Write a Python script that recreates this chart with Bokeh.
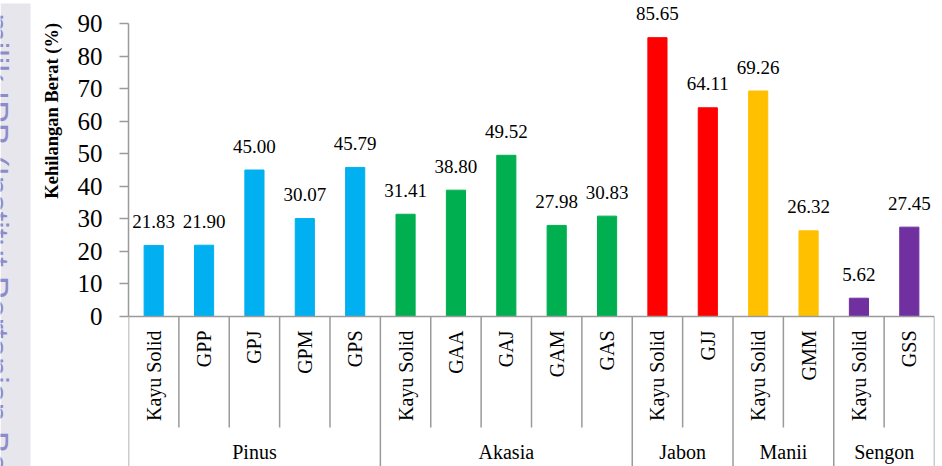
import math
from bokeh.plotting import figure
from bokeh.layouts import row
from bokeh.models import FactorRange, Range1d, FixedTicker, ColumnDataSource
from bokeh.core.properties import value
from bokeh.embed import file_html
from bokeh.resources import INLINE

# ---------------- data ----------------
groups = ["Pinus", "Akasia", "Jabon", "Manii", "Sengon"]
pinus_cats = ["Kayu Solid", "GPP", "GPJ", "GPM", "GPS"]
pinus_vals = [21.83, 21.90, 45.00, 30.07, 45.79]
akasia_cats = ["Kayu Solid", "GAA", "GAJ", "GAM", "GAS"]
akasia_vals = [31.41, 38.80, 49.52, 27.98, 30.83]
jabon_cats = ["Kayu Solid", "GJJ"]
jabon_vals = [85.65, 64.11]
manii_cats = ["Kayu Solid", "GMM"]
manii_vals = [69.26, 26.32]
sengon_cats = ["Kayu Solid", "GSS"]
sengon_vals = [5.62, 27.45]
group_colors = ["#00B0F0", "#00B050", "#FF0000", "#FFC000", "#7030A0"]
y_ticks = [0, 10, 20, 30, 40, 50, 60, 70, 80, 90]
y_title = "Kehilangan Berat (%)"
watermark = "milik IPB (Institut Pertanian Bogor)"

group_cats = [pinus_cats, akasia_cats, jabon_cats, manii_cats, sengon_cats]
group_vals = [pinus_vals, akasia_vals, jabon_vals, manii_vals, sengon_vals]

factors, vals, cols, subs = [], [], [], []
for g, cats, vs, c in zip(groups, group_cats, group_vals, group_colors):
    for s, v in zip(cats, vs):
        factors.append((g, s))
        vals.append(v)
        cols.append(c)
        subs.append(s)

# ---------------- layout ----------------
W, H = 942, 466
LEFT_W = 66                      # width of the side strip figure
FRAME_L, FRAME_R, FRAME_T, FRAME_B = 128, 934, 3, 466
ZERO_PX, TOP_PX = 316, 23
unit = (ZERO_PX - TOP_PX) / (y_ticks[-1] - y_ticks[0])
y_end = (ZERO_PX - FRAME_T) / unit
y_start = -(FRAME_B - ZERO_PX) / unit


def py(cy):
    return (ZERO_PX - cy) / unit


AXIS_COLOR = "#9a9a9a"
SERIF = "Liberation Serif"

# ---------------- left strip: watermark + y title ----------------
lf = figure(width=LEFT_W, height=H, x_range=Range1d(0, LEFT_W), y_range=Range1d(H, 0),
            output_backend="svg", toolbar_location=None,
            x_axis_location=None, y_axis_location=None,
            min_border_left=0, min_border_right=0, min_border_top=0, min_border_bottom=0)
lf.outline_line_color = None
lf.xgrid.visible = False
lf.ygrid.visible = False
lf.background_fill_color = "white"
lf.border_fill_color = "white"
lf.quad(left=[0], right=[30], top=[-5], bottom=[H + 5], fill_color="#E6E6EC",
        line_color=None)
lf.text(x=[-4], y=[10], text=[watermark], angle=-math.pi / 2,
        text_align="left", text_baseline="alphabetic",
        text_font=value("Liberation Sans"), text_font_size="34px",
        text_color="#8C8CC8")
lf.text(x=[51], y=[108], text=[y_title], angle=math.pi / 2,
        text_align="center", text_baseline="middle",
        text_font=value(SERIF), text_font_style="bold", text_font_size="18.5px",
        text_color="#000000")

# ---------------- main chart ----------------
x_range = FactorRange(*factors, group_padding=0, factor_padding=0,
                      subgroup_padding=0, range_padding=0)
p = figure(width=W - LEFT_W, height=H, x_range=x_range, y_range=Range1d(y_start, y_end),
           output_backend="svg", toolbar_location=None, x_axis_location=None,
           min_border_left=FRAME_L - LEFT_W, min_border_right=W - FRAME_R,
           min_border_top=FRAME_T, min_border_bottom=H - FRAME_B)
p.outline_line_color = None
p.xgrid.visible = False
p.ygrid.visible = False
p.background_fill_color = "white"
p.border_fill_color = "white"

ax = p.yaxis[0]
ax.ticker = FixedTicker(ticks=y_ticks)
ax.bounds = (y_ticks[0], y_ticks[-1])
ax.axis_line_color = AXIS_COLOR
ax.axis_line_width = 1.5
ax.major_tick_line_color = AXIS_COLOR
ax.major_tick_line_width = 1.5
ax.major_tick_out = 9
ax.major_tick_in = 0
ax.minor_tick_out = 0
ax.minor_tick_in = 0
ax.major_label_standoff = 17
ax.major_label_text_font = SERIF
ax.major_label_text_font_size = "25px"
ax.major_label_text_color = "#000000"

src = ColumnDataSource(dict(x=factors, top=vals, color=cols,
                            label=["%.2f" % v for v in vals], sub=subs))

p.vbar(x="x", top="top", bottom=0, width=0.38, color="color", source=src)

# value labels
p.text(x="x", y="top", text="label", source=src, y_offset=-24,
       text_align="center", text_baseline="middle",
       text_font=value(SERIF), text_font_size="19px", text_color="#000000")

# category labels
p.text(x="x", y=py(330), text="sub", source=src, angle=math.pi / 2,
       text_align="right", text_baseline="middle",
       text_font=value(SERIF), text_font_size="20px", text_color="#000000")

# group labels and separators
n_all = len(factors)
bounds_idx = [0]
for cats in group_cats:
    bounds_idx.append(bounds_idx[-1] + len(cats))
gcenters = [(a + b) / 2 for a, b in zip(bounds_idx[:-1], bounds_idx[1:])]
p.text(x=gcenters, y=[py(451)] * len(groups), text=groups,
       text_align="center", text_baseline="middle",
       text_font=value(SERIF), text_font_size="20px", text_color="#000000")

p.segment(x0=[0], x1=[n_all], y0=[0], y1=[0], line_color=AXIS_COLOR, line_width=1.5)
sub_b = [i for i in range(n_all + 1) if i not in bounds_idx]
p.segment(x0=sub_b, x1=sub_b, y0=[0] * len(sub_b), y1=[py(427)] * len(sub_b),
          line_color=AXIS_COLOR, line_width=1.5)
p.segment(x0=bounds_idx, x1=bounds_idx, y0=[0] * len(bounds_idx),
          y1=[py(480)] * len(bounds_idx), line_color=AXIS_COLOR, line_width=1.5)

layout = row(lf, p)
open("out.html", "w").write(file_html(layout, INLINE))
